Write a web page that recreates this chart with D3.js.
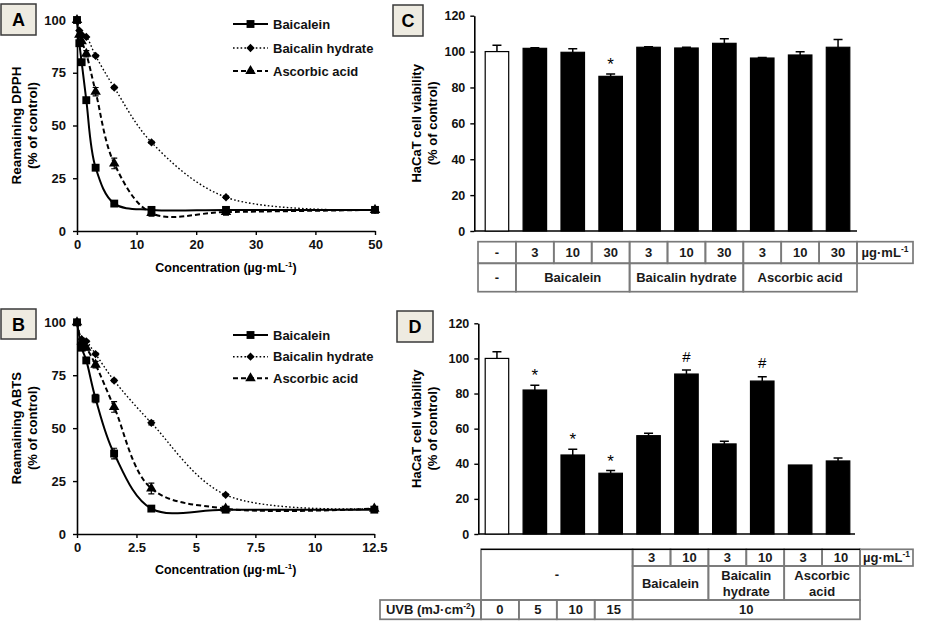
<!DOCTYPE html>
<html><head><meta charset="utf-8">
<script src="https://cdn.jsdelivr.net/npm/d3@7"></script>
<style>
body{margin:0;background:#fff;}
svg{display:block;font-family:"Liberation Sans",Arial,sans-serif;}
</style></head><body>
<svg id="c" width="932" height="631"></svg>
<script>
// ---------- DATA ----------
const seriesNames = ["Baicalein", "Baicalin hydrate", "Ascorbic acid"];

const concA = [0, 0.39, 0.78, 1.56, 3.125, 6.25, 12.5, 25, 50];
const baicaleinA = [100, 89, 80, 62, 30, 13, 10, 10, 10];
const baicalinA = [100, 95, 93, 92, 83, 68, 42, 16, 10];
const ascorbicA = [100, 93, 90, 84, 66, 32, 8.5, 9, 10];
const errBaicaleinA = [0, 0, 0, 0, 1, 1, 1, 0.5, 0.5];
const errBaicalinA = [0, 0, 0, 0, 0.5, 0.5, 0.5, 0.5, 0.5];
const errAscorbicA = [0, 0, 0, 1.5, 2, 2.5, 1.5, 1.5, 0.5];
const xTicksA = [0, 10, 20, 30, 40, 50];

const concB = [0, 0.195, 0.39, 0.78, 1.56, 3.125, 6.25, 12.5];
const baicaleinB = [100, 88, 82, 64, 38, 12, 11.5, 11.5];
const baicalinB = [100, 92, 91, 85, 72.5, 52.5, 18.5, 12];
const ascorbicB = [100, 91, 88, 80, 60, 21.5, 12, 12];
const errBaicaleinB = [0, 1, 1, 2, 2.5, 1, 1, 1];
const errBaicalinB = [0, 0.5, 0.5, 0.5, 0.5, 1, 0.5, 0.5];
const errAscorbicB = [0, 0.5, 1, 1.5, 2.5, 2.5, 0.5, 0.5];
const xTicksB = [0, 2.5, 5, 7.5, 10, 12.5];
const yTicksLine = [0, 25, 50, 75, 100];

const barIds = [0, 1, 2, 3, 4, 5, 6, 7, 8, 9];
const yTicksBar = [0, 20, 40, 60, 80, 100, 120];

const valuesC = [100, 101.8, 99.6, 86.2, 102.4, 102, 104.6, 96.4, 98.1, 102.4];
const errorsC = [3.5, 0.4, 2, 1.3, 0.3, 0.4, 2.6, 0.3, 1.8, 4.3];
const marksC = ["", "", "", "*", "", "", "", "", "", ""];
const doseC = ["-", "3", "10", "30", "3", "10", "30", "3", "10", "30"];
const groupNamesC = ["-", "Baicalein", "Baicalin hydrate", "Ascorbic acid"];
const groupSpansC = [1, 3, 3, 3];

const valuesD = [100, 82, 45, 34.6, 56, 91.1, 51.3, 87.1, 39.3, 41.6];
const errorsD = [3.8, 2.7, 3.2, 1.5, 1.4, 2.3, 1.5, 2.5, 0, 1.7];
const marksD = ["", "*", "*", "*", "", "#", "", "#", "", ""];
const doseD = ["3", "10", "3", "10", "3", "10"];
const groupNamesD = [["Baicalein"], ["Baicalin", "hydrate"], ["Ascorbic", "acid"]];
const uvbD = ["0", "5", "10", "15", "10"];
const uvbSpansD = [1, 1, 1, 1, 6];
const unitLabel = "µg·mL";

// ---------- HELPERS ----------
const svg = d3.select("#c");

function labelBox(x, y, w, h, t) {
  svg.append("rect").attr("x", x).attr("y", y).attr("width", w).attr("height", h)
    .attr("fill", "#eeebe1").attr("stroke", "#3a3a3a").attr("stroke-width", 1.5);
  svg.append("text").attr("x", x + w / 2).attr("y", y + h / 2 + 6.5)
    .attr("text-anchor", "middle").attr("font-weight", "bold").attr("font-size", 18).text(t);
}

function yTitle(cx, cy, lines, size) {
  const g = svg.append("g").attr("transform", `translate(${cx},${cy}) rotate(-90)`);
  lines.forEach((l, i) => {
    g.append("text").attr("x", 0).attr("y", i * 15.5).attr("text-anchor", "middle")
      .attr("font-weight", "bold").attr("font-size", size).text(l);
  });
}

function unitText(sel, base, size) {
  const t = sel.append("text").attr("font-weight", "bold").attr("font-size", size);
  t.append("tspan").text(base);
  t.append("tspan").attr("dy", -5).attr("font-size", size * 0.65).text("-1");
  return t;
}

const symbols = [d3.symbolSquare, d3.symbolDiamond2, d3.symbolTriangle];
const symSizes = [62, 44, 48];
const dashes = [null, "1.6,2.2", "5,3"];
const widths = [2, 1.4, 2];

function linePanel(cfg) {
  const x = d3.scaleLinear().domain(cfg.xDomain).range(cfg.xRange);
  const y = d3.scaleLinear().domain([0, 100]).range(cfg.yRange);
  const ax = svg.append("g").attr("transform", `translate(0,${cfg.yRange[0]})`)
    .call(d3.axisBottom(x).tickValues(cfg.xTicks).tickSize(4).tickSizeOuter(0).tickPadding(5)
      .tickFormat(d => d));
  const ay = svg.append("g").attr("transform", `translate(${cfg.xRange[0]},0)`)
    .call(d3.axisLeft(y).tickValues(yTicksLine).tickSize(4).tickSizeOuter(0).tickPadding(7));
  [ax, ay].forEach(a => {
    a.select(".domain").attr("stroke-width", 1.6);
    a.selectAll(".tick line").attr("stroke-width", 1.4);
    a.selectAll("text").attr("font-size", 13).attr("font-weight", "bold").attr("fill", "#111")
      .attr("font-family", "Liberation Sans, Arial, sans-serif");
  });
  cfg.series.forEach((vals, si) => {
    const pts = cfg.conc.map((c, i) => [c, vals[i], cfg.errs[si][i]]);
    svg.append("path").datum(pts)
      .attr("d", d3.line().x(d => x(d[0])).y(d => y(d[1])).curve(d3.curveCatmullRom.alpha(0.5)))
      .attr("fill", "none").attr("stroke", "#000").attr("stroke-width", widths[si])
      .attr("stroke-dasharray", dashes[si]);
    pts.forEach(d => {
      if (d[2] > 0) {
        const px = x(d[0]);
        svg.append("path").attr("d",
          `M${px},${y(d[1] - d[2])}V${y(d[1] + d[2])}M${px - 3},${y(d[1] + d[2])}H${px + 3}M${px - 3},${y(d[1] - d[2])}H${px + 3}`)
          .attr("stroke", "#000").attr("stroke-width", 1.2).attr("fill", "none");
      }
      svg.append("path").attr("d", d3.symbol(symbols[si], symSizes[si])())
        .attr("transform", `translate(${x(d[0])},${y(d[1])})`).attr("fill", "#000");
    });
  });
  // legend
  seriesNames.forEach((n, si) => {
    const ly = cfg.legendY[si];
    svg.append("line").attr("x1", 233).attr("x2", 268).attr("y1", ly).attr("y2", ly)
      .attr("stroke", "#000").attr("stroke-width", widths[si]).attr("stroke-dasharray", dashes[si]);
    svg.append("path").attr("d", d3.symbol(symbols[si], symSizes[si])())
      .attr("transform", `translate(250.5,${ly})`).attr("fill", "#000");
    svg.append("text").attr("x", 273).attr("y", ly + 4.5).attr("font-weight", "bold")
      .attr("font-size", 13).attr("fill", "#111").text(n);
  });
  const t = unitText(svg, "Concentration  (µg·mL", 12.5)
    .attr("x", (cfg.xRange[0] + cfg.xRange[1]) / 2).attr("y", cfg.xTitleY).attr("text-anchor", "middle");
  t.append("tspan").attr("dy", 5).attr("font-size", 12.5).text(")");
  yTitle(cfg.yTitleX, (cfg.yRange[0] + cfg.yRange[1]) / 2, cfg.yTitle, cfg.yTitleSize);
}

// ---------- PANEL A ----------
linePanel({
  conc: concA, series: [baicaleinA, baicalinA, ascorbicA],
  errs: [errBaicaleinA, errBaicalinA, errAscorbicA],
  xDomain: [0, 50], xRange: [77, 375], yRange: [231, 20], xTicks: xTicksA,
  legendY: [24, 48, 71], xTitleY: 272, yTitleX: 21, yTitleSize: 13.5,
  yTitle: ["Reamaining DPPH", "(% of control)"]
});
labelBox(1, 4, 35, 31, "A");

// ---------- PANEL B ----------
linePanel({
  conc: concB, series: [baicaleinB, baicalinB, ascorbicB],
  errs: [errBaicaleinB, errBaicalinB, errAscorbicB],
  xDomain: [0, 12.5], xRange: [77, 374.3], yRange: [534, 322.3], xTicks: xTicksB,
  legendY: [335, 356.7, 378.3], xTitleY: 574, yTitleX: 21, yTitleSize: 13,
  yTitle: ["Reamaining ABTS", "(% of control)"]
});
labelBox(1, 309, 35, 30, "B");

// ---------- BAR PANELS ----------
const xb = d3.scaleBand().domain(barIds).range([478, 857]).paddingInner(0.38).paddingOuter(0.19);
const stepB = xb.step();
const colEdge = k => 478 + k * stepB;

function barPanel(cfg) {
  const y = d3.scaleLinear().domain([0, 120]).range(cfg.yRange);
  const ay = svg.append("g").attr("transform", `translate(${cfg.axisX},0)`)
    .call(d3.axisLeft(y).tickValues(yTicksBar).tickSize(4).tickSizeOuter(0).tickPadding(5));
  ay.select(".domain").attr("stroke-width", 1.6);
  ay.selectAll(".tick line").attr("stroke-width", 1.4);
  ay.selectAll("text").attr("font-size", 12.5).attr("font-weight", "bold").attr("fill", "#111")
    .attr("font-family", "Liberation Sans, Arial, sans-serif");
  svg.append("line").attr("x1", cfg.axisX).attr("x2", cfg.axisEnd)
    .attr("y1", cfg.yRange[0]).attr("y2", cfg.yRange[0]).attr("stroke", "#000").attr("stroke-width", 1.6);
  barIds.forEach(i => {
    const v = cfg.values[i], e = cfg.errors[i];
    const bx = xb(i), bw = xb.bandwidth(), cx = bx + bw / 2;
    if (e > 0) {
      svg.append("path").attr("d", `M${cx},${y(v)}V${y(v + e)}M${cx - 4.5},${y(v + e)}H${cx + 4.5}`)
        .attr("stroke", "#000").attr("stroke-width", 1.5).attr("fill", "none");
    }
    svg.append("rect").attr("x", bx).attr("y", y(v)).attr("width", bw).attr("height", cfg.yRange[0] - y(v))
      .attr("fill", i === 0 ? "#fff" : "#000").attr("stroke", "#000").attr("stroke-width", 1.2);
    if (cfg.marks[i]) {
      const isStar = cfg.marks[i] === "*";
      svg.append("text").attr("x", cx).attr("y", y(v + e) - (isStar ? 4 : 8.5))
        .attr("text-anchor", "middle").attr("font-size", isStar ? 17 : 15)
        .attr("font-family", "Liberation Sans, Arial, sans-serif").text(cfg.marks[i]);
    }
  });
  yTitle(cfg.yTitleX, (cfg.yRange[0] + cfg.yRange[1]) / 2, ["HaCaT cell viability", "(% of control)"], 13);
}

function cell(x0, x1, y0, y1, lines, opts = {}) {
  svg.append("rect").attr("x", x0).attr("y", y0).attr("width", x1 - x0).attr("height", y1 - y0)
    .attr("fill", "none").attr("stroke", opts.stroke || "#7a7a7a").attr("stroke-width", 1.7);
  const n = lines.length, cy = (y0 + y1) / 2, lh = 16;
  lines.forEach((l, i) => {
    svg.append("text").attr("x", (x0 + x1) / 2).attr("y", cy + (i - (n - 1) / 2) * lh + 4.5)
      .attr("text-anchor", "middle").attr("font-weight", "bold").attr("font-size", 13)
      .attr("fill", "#1a1a1a").text(l);
  });
}
function unitCell(x0, x1, y0, y1) {
  svg.append("rect").attr("x", x0).attr("y", y0).attr("width", x1 - x0).attr("height", y1 - y0)
    .attr("fill", "none").attr("stroke", "#7a7a7a").attr("stroke-width", 1.7);
  unitText(svg, unitLabel, 13).attr("x", (x0 + x1) / 2).attr("y", (y0 + y1) / 2 + 4.5)
    .attr("text-anchor", "middle").attr("fill", "#1a1a1a");
}

// ---------- PANEL C ----------
barPanel({ values: valuesC, errors: errorsC, marks: marksC, yRange: [231, 15.7],
  axisX: 474.3, axisEnd: 857, yTitleX: 421 });
labelBox(393, 5, 30, 31, "C");
{
  const r0 = 241.7, r1 = 263.3, r2 = 291.7;
  doseC.forEach((d, k) => cell(colEdge(k), colEdge(k + 1), r0, r1, [d]));
  unitCell(colEdge(10), 913, r0, r1);
  let k = 0;
  groupNamesC.forEach((g, gi) => {
    cell(colEdge(k), colEdge(k + groupSpansC[gi]), r1, r2, [g]);
    k += groupSpansC[gi];
  });
}

// ---------- PANEL D ----------
barPanel({ values: valuesD, errors: errorsD, marks: marksD, yRange: [534, 323.3],
  axisX: 478.3, axisEnd: 855, yTitleX: 421 });
labelBox(397, 311, 36, 31, "D");
{
  const off = 3;
  const ce = k => colEdge(k) + off;
  const r0 = 549.3, r1 = 566, r2 = 600, r3 = 619.3;
  cell(ce(0), ce(4), r0, r2, ["-"]);
  doseD.forEach((d, j) => cell(ce(4 + j), ce(5 + j), r0, r1, [d]));
  unitCell(ce(10), 913, r0, r1);
  groupNamesD.forEach((g, j) => cell(ce(4 + 2 * j), ce(6 + 2 * j), r1, r2, g));
  svg.append("line").attr("x1", ce(0)).attr("x2", ce(10)).attr("y1", r0).attr("y2", r0)
    .attr("stroke", "#000").attr("stroke-width", 1.2);
  cell(380, ce(0), r2, r3, []);
  const ut = unitText(svg, "UVB (mJ·cm", 13).attr("x", 430.5).attr("y", (r2 + r3) / 2 + 4.5)
    .attr("text-anchor", "middle").attr("fill", "#1a1a1a");
  ut.select("tspan:nth-child(2)").text("-2");
  ut.append("tspan").attr("dy", 5).attr("font-size", 13).text(")");
  let k = 0;
  uvbD.forEach((u, j) => { cell(ce(k), ce(k + uvbSpansD[j]), r2, r3, [u]); k += uvbSpansD[j]; });
}
</script>
</body></html>
